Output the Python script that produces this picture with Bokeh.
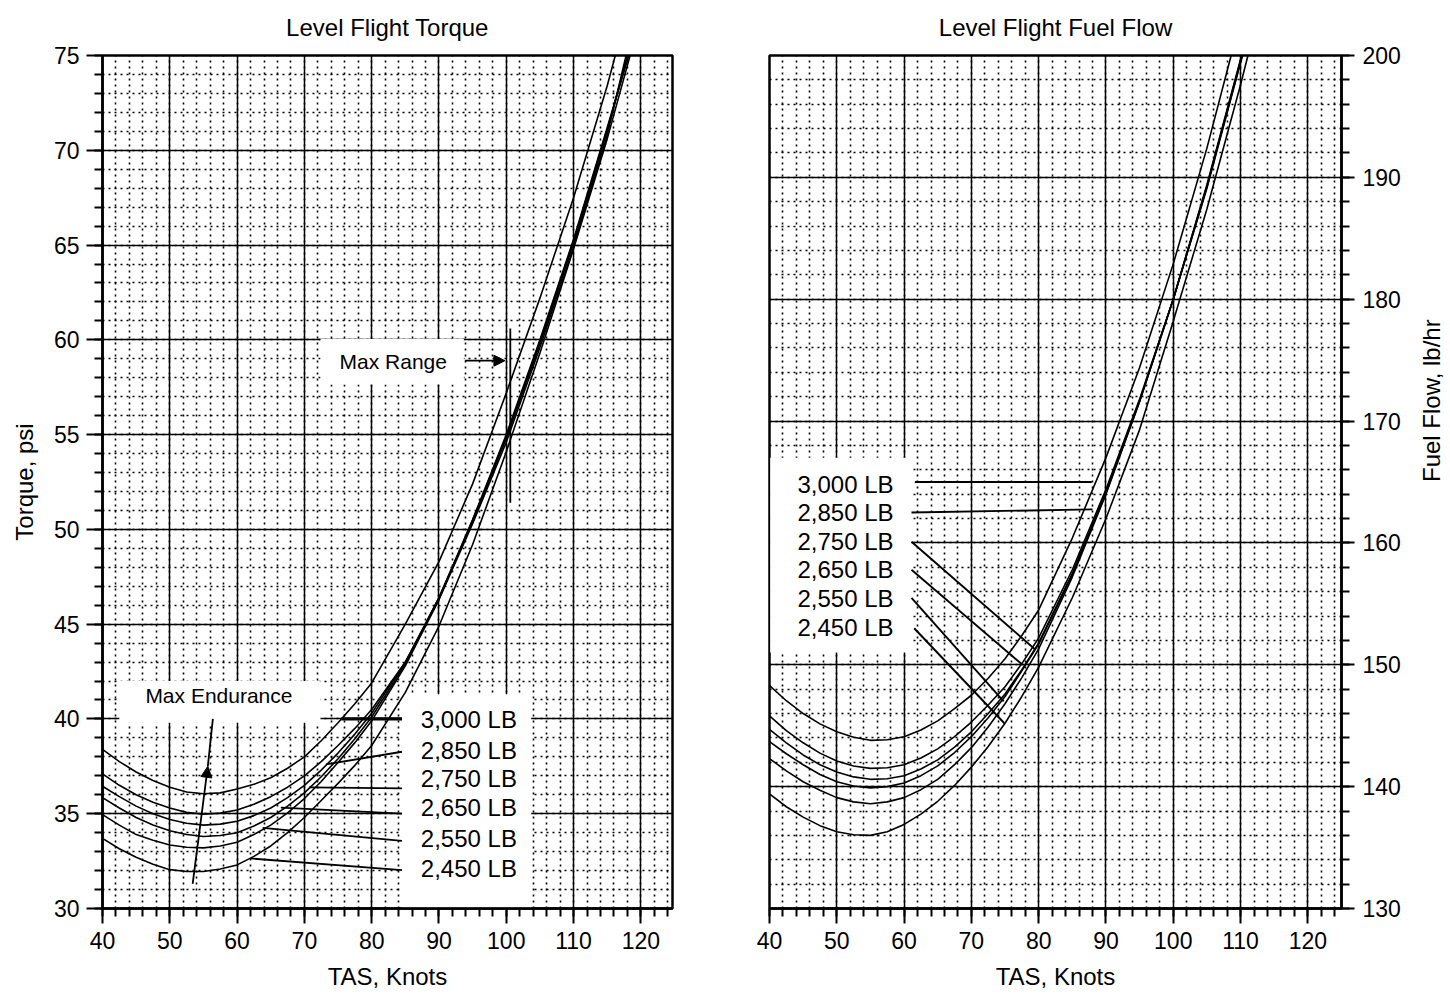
import math
from bokeh.plotting import figure
from bokeh.layouts import row
from bokeh.models import Range1d, FixedTicker, Arrow, NormalHead
from bokeh.embed import file_html
from bokeh.resources import INLINE
from bokeh.core.properties import value

# ---------------- data ----------------
weights = ["3,000 LB", "2,850 LB", "2,750 LB", "2,650 LB", "2,550 LB", "2,450 LB"]

# Level flight torque (psi) vs TAS (knots); last point = where the curve leaves the 75 psi top
tq_x_common = [40, 42.5, 45, 47.5, 50, 52.5, 55, 57.5, 60, 62.5, 65, 67.5, 70, 72.5, 75, 77.5, 80,
               85, 90, 95, 100, 105, 110, 115]
tq_x_3000 = tq_x_common + [116.2]
tq_y_3000 = [38.4, 37.75, 37.2, 36.75, 36.4, 36.15, 36.05, 36.1, 36.3, 36.55, 36.9, 37.4, 38.0, 38.85, 39.8, 40.8, 41.9,
             45.0, 48.3, 52.4, 57.2, 62.2, 67.5, 73.4, 75.0]
tq_x_2850 = tq_x_common + [117.8]
tq_y_2850 = [37.1, 36.5, 36.0, 35.6, 35.3, 35.07, 34.97, 35.03, 35.2, 35.5, 35.9, 36.4, 37.0, 37.75, 38.6, 39.5, 40.5,
             43.0, 46.3, 50.3, 54.6, 59.6, 64.9, 70.8, 75.0]
tq_x_2750 = tq_x_common + [118.0]
tq_y_2750 = [36.45, 35.9, 35.4, 35.0, 34.7, 34.5, 34.4, 34.45, 34.6, 34.9, 35.3, 35.85, 36.5, 37.3, 38.2, 39.2, 40.3,
             43.0, 46.4, 50.4, 54.8, 59.8, 65.1, 71.0, 75.0]
tq_x_2650 = tq_x_common + [118.1]
tq_y_2650 = [35.85, 35.3, 34.8, 34.4, 34.1, 33.9, 33.8, 33.85, 34.0, 34.35, 34.8, 35.4, 36.1, 36.95, 37.9, 38.95, 40.1,
             42.9, 46.4, 50.5, 54.9, 59.9, 65.2, 71.1, 75.0]
tq_x_2550 = tq_x_common + [118.2]
tq_y_2550 = [34.95, 34.4, 33.9, 33.6, 33.35, 33.23, 33.2, 33.3, 33.5, 33.9, 34.4, 35.05, 35.8, 36.7, 37.7, 38.75, 39.9,
             42.8, 46.3, 50.5, 55.0, 60.0, 65.3, 71.2, 75.0]
tq_x_2450 = tq_x_common + [118.4]
tq_y_2450 = [33.7, 33.15, 32.7, 32.33, 32.05, 31.95, 31.95, 32.08, 32.3, 32.75, 33.3, 34.0, 34.8, 35.7, 36.6, 37.55, 38.6,
             41.4, 44.9, 49.2, 54.1, 59.3, 64.8, 70.6, 75.0]

# Level flight fuel flow (lb/hr) vs TAS (knots); last point = where the curve leaves the 200 lb/hr top
ff_x_common = [40, 42.5, 45, 47.5, 50, 52.5, 55, 57.5, 60, 62.5, 65, 67.5, 70, 72.5, 75, 77.5, 80,
               85, 90, 95, 100, 105]
ff_x_3000 = ff_x_common + [108.6]
ff_y_3000 = [148.3, 147.05, 146.0, 145.15, 144.5, 144.05, 143.8, 143.85, 144.1, 144.65, 145.4, 146.4, 147.5, 148.9,
             150.5, 152.4, 154.5, 160.4, 167.0, 174.4, 182.9, 192.4, 200.0]
ff_x_2850 = ff_x_common + [110, 110.3]
ff_y_2850 = [145.8, 144.6, 143.6, 142.75, 142.1, 141.7, 141.5, 141.55, 141.8, 142.35, 143.1, 144.1, 145.3, 146.7,
             148.2, 150.1, 152.2, 157.8, 164.4, 171.8, 180.0, 189.1, 199.4, 200.0]
ff_x_2750 = ff_x_common + [110, 110.25]
ff_y_2750 = [144.7, 143.6, 142.6, 141.8, 141.2, 140.8, 140.6, 140.65, 140.9, 141.45, 142.2, 143.25, 144.5, 146.0,
             147.6, 149.6, 151.8, 157.5, 164.2, 171.7, 180.0, 189.2, 199.5, 200.0]
ff_x_2650 = ff_x_common + [110, 110.2]
ff_y_2650 = [143.7, 142.7, 141.8, 141.0, 140.4, 140.05, 139.9, 140.0, 140.3, 140.9, 141.7, 142.8, 144.1, 145.65,
             147.4, 149.5, 151.7, 157.4, 164.1, 171.6, 180.0, 189.3, 199.6, 200.0]
ff_x_2550 = ff_x_common + [110, 110.15]
ff_y_2550 = [142.3, 141.3, 140.4, 139.7, 139.1, 138.75, 138.6, 138.75, 139.1, 139.75, 140.6, 141.8, 143.2, 144.9,
             146.8, 148.95, 151.3, 157.2, 164.0, 171.6, 180.0, 189.4, 199.7, 200.0]
ff_x_2450 = ff_x_common + [110, 111.1]
ff_y_2450 = [139.4, 138.35, 137.5, 136.8, 136.3, 136.05, 136.0, 136.3, 136.9, 137.75, 138.8, 140.1, 141.6, 143.3,
             145.2, 147.4, 149.8, 155.5, 162.0, 169.3, 178.2, 187.4, 197.6, 200.0]

# axis ticks
tas_ticks = [40, 50, 60, 70, 80, 90, 100, 110, 120]
tas_minor = list(range(40, 126, 2))
torque_ticks = [30, 35, 40, 45, 50, 55, 60, 65, 70, 75]
torque_minor = list(range(30, 76, 1))
fuel_ticks = [130, 140, 150, 160, 170, 180, 190, 200]
fuel_minor = list(range(130, 201, 2))

# weight labels and their leader lines
tq_label_psi = [39.96, 38.36, 36.88, 35.32, 33.71, 32.11]
tq_lead_x0 = [75.5, 73.2, 70.7, 66.5, 63.8, 62.0]
tq_lead_y0 = [40.0, 37.6, 36.39, 35.32, 34.25, 32.64]
tq_lead_x1 = [84.5, 84.5, 84.5, 84.5, 84.5, 84.5]
tq_lead_y1 = [40.0, 38.27, 36.34, 35.0, 33.57, 32.02]

ff_label_lb = [164.79, 162.47, 160.14, 157.81, 155.48, 153.07]
ff_lead_x0 = [61.6, 61.1, 61.1, 61.1, 61.1, 61.5]
ff_lead_y0 = [165.0, 162.5, 160.1, 157.8, 155.5, 153.0]
ff_lead_x1 = [87.9, 88.0, 79.4, 77.6, 74.8, 74.9]
ff_lead_y1 = [165.0, 162.75, 151.3, 150.0, 147.0, 145.2]

FONT = "Liberation Sans"
TICK_FS = "23px"
LABEL_FS = "24px"


def style(p, xt, yt):
    p.outline_line_color = "black"
    p.outline_line_width = 2.5
    p.background_fill_color = "white"
    p.border_fill_color = "white"
    for g, t in ((p.xgrid[0], xt), (p.ygrid[0], yt)):
        g.ticker = t
        g.grid_line_color = "black"
        g.grid_line_width = 1.5
        g.grid_line_alpha = 1.0
        g.minor_grid_line_color = "black"
        g.minor_grid_line_width = 1.6
        g.minor_grid_line_dash = "2 4"
        g.minor_grid_line_alpha = 1.0
    p.title.text_font = FONT
    p.title.text_font_size = "24px"
    p.title.text_font_style = "normal"
    p.title.align = "center"
    p.title.text_color = "black"
    p.title.vertical_align = "top"
    p.title.standoff = 26


def style_axis(ax, ticker, label, standoff_lbl, tick_out=15, minor_out=8, label_standoff=8):
    ax.ticker = ticker
    ax.axis_line_width = 2.5
    ax.axis_line_color = "black"
    ax.major_tick_line_width = 2
    ax.minor_tick_line_width = 2
    ax.major_tick_out = tick_out
    ax.major_tick_in = 0
    ax.minor_tick_out = minor_out
    ax.minor_tick_in = 0
    ax.major_label_text_font = FONT
    ax.major_label_text_font_size = TICK_FS
    ax.major_label_text_color = "black"
    ax.major_label_standoff = label_standoff
    ax.axis_label = label
    ax.axis_label_text_font = FONT
    ax.axis_label_text_font_size = LABEL_FS
    ax.axis_label_text_font_style = "normal"
    ax.axis_label_text_color = "black"
    ax.axis_label_standoff = standoff_lbl


# ---------------- left: torque ----------------
p1 = figure(frame_width=570, frame_height=853,
            x_range=Range1d(40, 124.7), y_range=Range1d(30, 75),
            min_border_left=102, min_border_right=47, min_border_top=55, min_border_bottom=85,
            output_backend="svg", toolbar_location=None, title="Level Flight Torque")
xt1 = FixedTicker(ticks=tas_ticks, minor_ticks=tas_minor)
yt1 = FixedTicker(ticks=torque_ticks, minor_ticks=torque_minor)
style(p1, xt1, yt1)
style_axis(p1.xaxis[0], xt1, "TAS, Knots", 11)
style_axis(p1.yaxis[0], yt1, "Torque, psi", 13, tick_out=16, label_standoff=7)

# white label backgrounds
p1.quad(left=[42.5, 72.4, 84.5], right=[72.4, 93.7, 103.7], bottom=[39.8, 57.65, 30.05], top=[42.0, 60.05, 41.3],
        fill_color="white", line_color=None)

for xs, ys in ((tq_x_3000, tq_y_3000), (tq_x_2850, tq_y_2850), (tq_x_2750, tq_y_2750),
               (tq_x_2650, tq_y_2650), (tq_x_2550, tq_y_2550), (tq_x_2450, tq_y_2450)):
    p1.line(xs, ys, line_color="black", line_width=1.6)

p1.segment(x0=tq_lead_x0, y0=tq_lead_y0, x1=tq_lead_x1, y1=tq_lead_y1, line_color="black",
           line_width=[3.2, 1.8, 1.8, 1.8, 1.8, 1.8])
p1.text(x=[87.3] * 6, y=tq_label_psi, text=weights, text_font=value(FONT), text_font_size=value("24px"),
        text_align="left", text_baseline="middle", text_color="black")

p1.text(x=[57.3, 83.2], y=[41.25, 58.88], text=["Max Endurance", "Max Range"], text_font=value(FONT),
        text_font_size=value("21px"), text_align="center", text_baseline="middle", text_color="black")
# Max endurance arrow
p1.add_layout(Arrow(end=NormalHead(size=11, fill_color="black", line_color="black"),
                    x_start=53.4, y_start=31.3, x_end=55.65, y_end=37.5, line_width=1.8, line_color="black"))
p1.line([55.65, 56.4], [37.5, 40.0], line_color="black", line_width=1.8)
# Max range arrow and marker
p1.add_layout(Arrow(end=NormalHead(size=11, fill_color="black", line_color="black"),
                    x_start=93.9, y_start=58.9, x_end=99.8, y_end=58.9, line_width=1.8, line_color="black"))
p1.line([100.6, 100.6], [51.4, 60.6], line_color="black", line_width=1.8)

# ---------------- right: fuel flow ----------------
p2 = figure(frame_width=572, frame_height=853,
            x_range=Range1d(40, 125.0), y_range=Range1d(130, 200),
            y_axis_location="right",
            min_border_left=50, min_border_right=106, min_border_top=55, min_border_bottom=85,
            output_backend="svg", toolbar_location=None, title="Level Flight Fuel Flow")
xt2 = FixedTicker(ticks=tas_ticks, minor_ticks=tas_minor)
yt2 = FixedTicker(ticks=fuel_ticks, minor_ticks=fuel_minor)
style(p2, xt2, yt2)
style_axis(p2.xaxis[0], xt2, "TAS, Knots", 11)
style_axis(p2.yaxis[0], yt2, "Fuel Flow, lb/hr", 28, tick_out=13)
if "axis_label_orientation" in p2.yaxis[0].properties():
    p2.yaxis[0].axis_label_orientation = math.pi / 2

p2.quad(left=[40.1], right=[61.1], bottom=[151.0], top=[167.0], fill_color="white", line_color=None)

for xs, ys in ((ff_x_3000, ff_y_3000), (ff_x_2850, ff_y_2850), (ff_x_2750, ff_y_2750),
               (ff_x_2650, ff_y_2650), (ff_x_2550, ff_y_2550), (ff_x_2450, ff_y_2450)):
    p2.line(xs, ys, line_color="black", line_width=1.6)

p2.segment(x0=ff_lead_x0, y0=ff_lead_y0, x1=ff_lead_x1, y1=ff_lead_y1, line_color="black", line_width=1.9)
p2.text(x=[44.15] * 6, y=ff_label_lb, text=weights, text_font=value(FONT), text_font_size=value("24px"),
        text_align="left", text_baseline="middle", text_color="black")

layout = row(p1, p2)
open("out.html", "w").write(file_html(layout, INLINE))
